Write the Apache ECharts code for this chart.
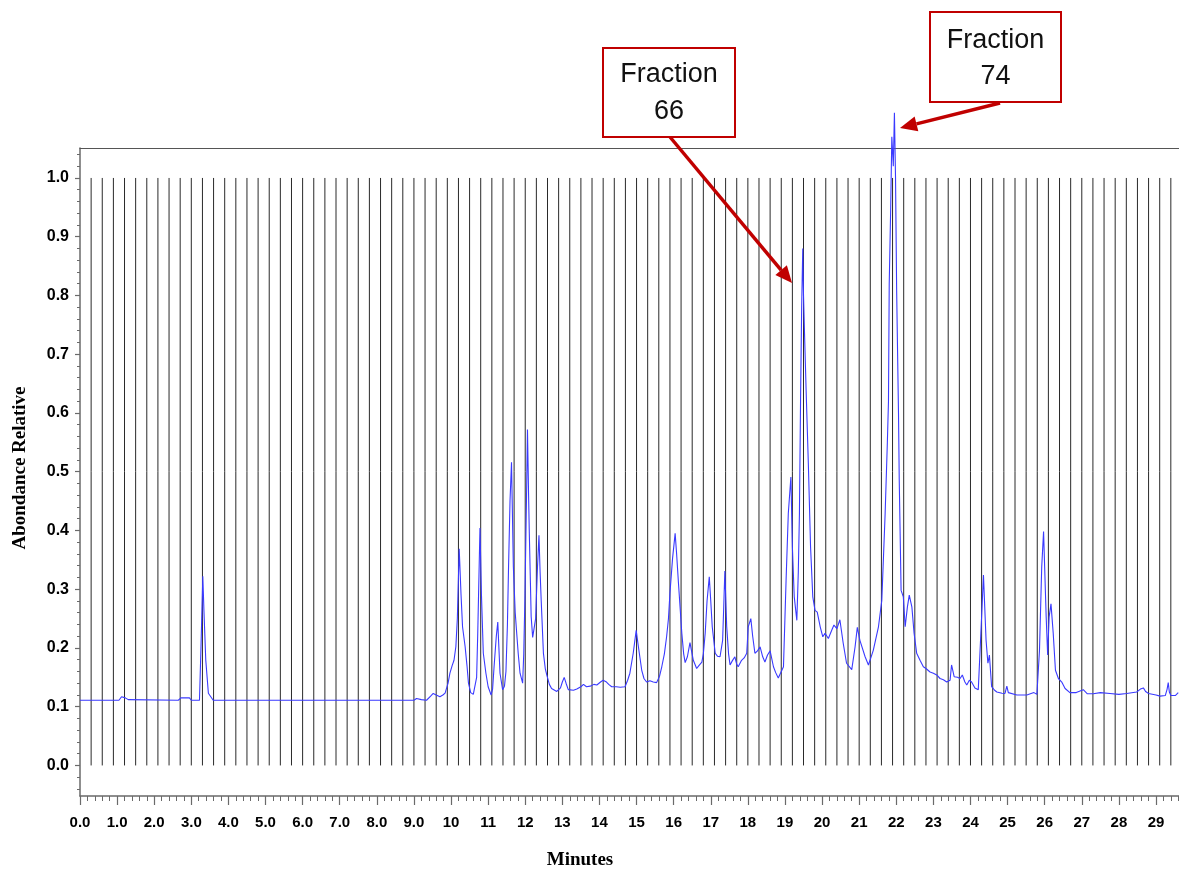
<!DOCTYPE html>
<html>
<head>
<meta charset="utf-8">
<script src="https://cdn.jsdelivr.net/npm/echarts@6/dist/echarts.min.js"></script>
<style>
html,body{margin:0;padding:0;background:#fff;}
#chart{width:1179px;height:871px;}
</style>
</head>
<body>
<div id="chart"></div>
<script>
// ---- data ----
const xTickValues = [0,1,2,3,4,5,6,7,8,9,10,11,12,13,14,15,16,17,18,19,20,21,22,23,24,25,26,27,28,29];
const xTickLabels = ['0.0','1.0','2.0','3.0','4.0','5.0','6.0','7.0','8.0','9.0','10','11','12','13','14','15','16','17','18','19','20','21','22','23','24','25','26','27','28','29'];
const yTickValues = [0,0.1,0.2,0.3,0.4,0.5,0.6,0.7,0.8,0.9,1.0];
const yTickLabels = ['0.0','0.1','0.2','0.3','0.4','0.5','0.6','0.7','0.8','0.9','1.0'];

const fractionTimes = [0.3,0.6,0.9,1.2,1.5,1.8,2.1,2.4,2.7,3.0,3.3,3.6,3.9,4.2,4.5,4.8,5.1,5.4,5.7,6.0,6.3,6.6,6.9,7.2,7.5,7.8,8.1,8.4,8.7,9.0,9.3,9.6,9.9,10.2,10.5,10.8,11.1,11.4,11.7,12.0,12.3,12.6,12.9,13.2,13.5,13.8,14.1,14.4,14.7,15.0,15.3,15.6,15.9,16.2,16.5,16.8,17.1,17.4,17.7,18.0,18.3,18.6,18.9,19.2,19.5,19.8,20.1,20.4,20.7,21.0,21.3,21.6,21.9,22.2,22.5,22.8,23.1,23.4,23.7,24.0,24.3,24.6,24.9,25.2,25.5,25.8,26.1,26.4,26.7,27.0,27.3,27.6,27.9,28.2,28.5,28.8,29.1,29.4];
const fractionBottom = 0;
const fractionTop = 1.0;

const traceTimes = [0,1.05,1.12,1.17,1.22,1.3,2.65,2.72,2.95,3.0,3.22,3.26,3.31,3.34,3.39,3.46,3.59,5.0,5.02,5.04,9.0,9.07,9.2,9.34,9.45,9.52,9.6,9.7,9.78,9.84,9.92,9.97,10.03,10.08,10.13,10.17,10.22,10.27,10.31,10.38,10.43,10.47,10.53,10.6,10.65,10.69,10.72,10.78,10.82,10.87,10.94,11.0,11.08,11.12,11.16,11.22,11.26,11.29,11.32,11.39,11.44,11.48,11.52,11.55,11.59,11.63,11.68,11.73,11.77,11.81,11.86,11.93,11.96,11.99,12.04,12.06,12.09,12.11,12.16,12.2,12.24,12.28,12.33,12.37,12.4,12.43,12.49,12.54,12.58,12.65,12.71,12.85,12.95,13.0,13.05,13.1,13.16,13.3,13.39,13.5,13.57,13.65,13.75,13.85,13.93,14.03,14.1,14.19,14.25,14.33,14.45,14.56,14.69,14.76,14.82,14.91,14.99,15.05,15.14,15.2,15.27,15.36,15.45,15.54,15.62,15.68,15.75,15.81,15.86,15.9,15.97,16.04,16.08,16.13,16.22,16.27,16.31,16.37,16.44,16.53,16.62,16.68,16.76,16.8,16.85,16.9,16.96,17.0,17.04,17.12,17.18,17.25,17.32,17.35,17.38,17.43,17.48,17.52,17.58,17.65,17.7,17.74,17.83,17.9,17.97,18.01,18.08,18.13,18.19,18.26,18.33,18.4,18.46,18.53,18.6,18.69,18.75,18.82,18.87,18.96,19.03,19.09,19.16,19.2,19.25,19.32,19.36,19.39,19.42,19.45,19.48,19.5,19.53,19.57,19.63,19.69,19.75,19.81,19.87,19.95,20.02,20.08,20.17,20.26,20.32,20.4,20.48,20.57,20.66,20.8,20.89,20.95,21.02,21.16,21.25,21.38,21.52,21.61,21.7,21.76,21.79,21.81,21.85,21.88,21.92,21.95,21.98,22.01,22.06,22.08,22.13,22.19,22.24,22.3,22.35,22.42,22.48,22.55,22.64,22.73,22.8,22.91,23.0,23.09,23.18,23.27,23.36,23.45,23.49,23.56,23.65,23.72,23.78,23.85,23.9,23.97,24.03,24.12,24.21,24.28,24.35,24.42,24.47,24.51,24.57,24.65,24.71,24.85,24.93,24.98,25.02,25.25,25.52,25.71,25.79,25.86,25.92,25.97,26.04,26.08,26.12,26.17,26.23,26.29,26.37,26.46,26.55,26.68,26.85,27.04,27.15,27.31,27.5,27.76,28.0,28.21,28.48,28.58,28.66,28.72,28.8,29.0,29.11,29.25,29.3,29.33,29.36,29.4,29.52,29.6];
const traceValues = [0.111,0.111,0.117,0.120,0.115,0.112,0.111,0.115,0.115,0.111,0.111,0.200,0.322,0.264,0.179,0.123,0.111,0.111,0.108,0.111,0.111,0.114,0.112,0.111,0.118,0.1225,0.120,0.117,0.120,0.123,0.140,0.157,0.170,0.179,0.202,0.250,0.369,0.290,0.236,0.202,0.170,0.140,0.124,0.121,0.122,0.150,0.225,0.404,0.290,0.191,0.157,0.134,0.120,0.130,0.168,0.220,0.244,0.200,0.157,0.129,0.135,0.160,0.240,0.338,0.451,0.516,0.338,0.260,0.225,0.191,0.157,0.140,0.190,0.281,0.480,0.572,0.460,0.395,0.253,0.218,0.218,0.250,0.338,0.392,0.330,0.281,0.191,0.165,0.154,0.138,0.131,0.126,0.132,0.142,0.150,0.140,0.129,0.128,0.130,0.134,0.138,0.134,0.135,0.138,0.137,0.142,0.145,0.142,0.138,0.134,0.134,0.133,0.134,0.145,0.157,0.191,0.230,0.202,0.162,0.148,0.142,0.144,0.142,0.141,0.152,0.168,0.190,0.219,0.250,0.293,0.352,0.395,0.360,0.310,0.225,0.190,0.175,0.185,0.209,0.179,0.165,0.170,0.176,0.190,0.225,0.280,0.321,0.280,0.236,0.191,0.186,0.185,0.213,0.270,0.331,0.236,0.190,0.171,0.178,0.185,0.172,0.168,0.179,0.183,0.191,0.236,0.250,0.220,0.191,0.195,0.202,0.185,0.176,0.188,0.195,0.168,0.158,0.149,0.148,0.168,0.315,0.429,0.491,0.372,0.287,0.247,0.330,0.429,0.620,0.780,0.880,0.800,0.729,0.639,0.514,0.372,0.287,0.264,0.261,0.236,0.219,0.225,0.216,0.230,0.239,0.233,0.248,0.208,0.174,0.163,0.202,0.235,0.213,0.185,0.171,0.196,0.236,0.281,0.429,0.550,0.620,0.820,0.950,1.070,1.020,1.111,1.000,0.809,0.600,0.486,0.298,0.287,0.236,0.270,0.290,0.270,0.225,0.191,0.179,0.168,0.165,0.159,0.157,0.154,0.148,0.146,0.142,0.145,0.171,0.151,0.150,0.148,0.154,0.142,0.137,0.145,0.142,0.132,0.129,0.225,0.324,0.213,0.174,0.188,0.134,0.128,0.125,0.123,0.1225,0.135,0.124,0.120,0.120,0.124,0.121,0.196,0.338,0.398,0.253,0.188,0.253,0.275,0.225,0.162,0.148,0.142,0.131,0.124,0.124,0.129,0.122,0.122,0.124,0.1225,0.121,0.1225,0.125,0.130,0.132,0.126,0.1225,0.120,0.118,0.119,0.130,0.141,0.125,0.119,0.119,0.124];

const annotations = [
  {label:'Fraction\n66', tipTime:19.19, tipValue:0.821},
  {label:'Fraction\n74', tipTime:22.10, tipValue:1.085}
];

// ---- minor ticks (axis decoration steps) ----
const xMinorStep = 0.2, yMinorStep = 0.02;
const xMinorTicks = [];
for (let i = 0; i <= 148; i++) xMinorTicks.push(+(i * xMinorStep).toFixed(2));
const yMinorTicks = [];
for (let i = -2; i <= 52; i++) yMinorTicks.push(+(i * yMinorStep).toFixed(2));

const X_MIN = 0, X_MAX = 29.62, Y_MIN = -0.052, Y_MAX = 1.051;
const AX = '#6a6a6a';
const LABEL_FONT = '"Liberation Sans", Arial, sans-serif';

function lookup(vals, labels, v) {
  for (let i = 0; i < vals.length; i++) if (Math.abs(vals[i] - v) < 1e-6) return labels[i];
  return '';
}

const chart = echarts.init(document.getElementById('chart'), null, {renderer:'canvas'});

const option = {
  animation: false,
  backgroundColor: '#ffffff',
  grid: {left: 80, right: 0, top: 148, bottom: 75, containLabel: false},
  xAxis: [
    {type:'value', min:X_MIN, max:X_MAX, position:'bottom',
     axisLine:{show:true, onZero:false, lineStyle:{color:AX, width:1.5}},
     axisTick:{show:true, customValues:xTickValues, length:9, lineStyle:{color:AX, width:1.2}},
     axisLabel:{show:true, customValues:xTickValues, margin:19, color:'#000', fontWeight:'bold', fontSize:15, fontFamily:LABEL_FONT,
       formatter:(v)=>lookup(xTickValues, xTickLabels, v)},
     splitLine:{show:false}},
    {type:'value', min:X_MIN, max:X_MAX, position:'bottom',
     axisLine:{show:false, onZero:false},
     axisTick:{show:true, customValues:xMinorTicks, length:5, lineStyle:{color:AX, width:1}},
     axisLabel:{show:false}, splitLine:{show:false}},
    {type:'value', min:X_MIN, max:X_MAX, position:'top',
     axisLine:{show:true, onZero:false, lineStyle:{color:'#555', width:1.2}},
     axisTick:{show:false}, axisLabel:{show:false}, splitLine:{show:false}}
  ],
  yAxis: [
    {type:'value', min:Y_MIN, max:Y_MAX, position:'left',
     axisLine:{show:true, onZero:false, lineStyle:{color:AX, width:1.5}},
     axisTick:{show:true, customValues:yTickValues, length:5, lineStyle:{color:AX, width:1.2}},
     axisLabel:{show:true, customValues:yTickValues, margin:11, color:'#000', fontWeight:'bold', fontSize:16, fontFamily:LABEL_FONT,
       formatter:(v)=>lookup(yTickValues, yTickLabels, v)},
     splitLine:{show:false}},
    {type:'value', min:Y_MIN, max:Y_MAX, position:'left',
     axisLine:{show:false, onZero:false},
     axisTick:{show:true, customValues:yMinorTicks, length:3, lineStyle:{color:AX, width:1}},
     axisLabel:{show:false}, splitLine:{show:false}}
  ],
  series: [
    {
      type:'custom', name:'fractions', xAxisIndex:0, yAxisIndex:0, z:2,
      data: fractionTimes.map(t => [t, fractionBottom, fractionTop]),
      encode:{x:0, y:[1,2]},
      renderItem: function(params, api) {
        const p0 = api.coord([api.value(0), api.value(1)]);
        const p1 = api.coord([api.value(0), api.value(2)]);
        return {type:'line', shape:{x1:p0[0], y1:p0[1], x2:p1[0], y2:p1[1]},
                style:{stroke:'#2a2a2a', lineWidth:1}};
      }
    },
    {
      type:'line', name:'trace', xAxisIndex:0, yAxisIndex:0, z:3,
      data: traceTimes.map((t,i)=>[t, traceValues[i]]),
      showSymbol:false, symbol:'none', clip:false,
      lineStyle:{color:'#3a3aff', width:1.1},
      silent:true
    }
  ]
};
chart.setOption(option);

// ---- annotations: boxes and arrows ----
const RED = '#c00000';
const boxes = [
  {x:603, y:48, w:132, h:89, line1Y:75, line2Y:112, startX:670, startY:137},
  {x:930, y:12, w:131, h:90, line1Y:41, line2Y:77, startX:1000, startY:103}
];
const graphics = [];
annotations.forEach((a, i) => {
  const b = boxes[i];
  const parts = a.label.split('\n');
  graphics.push({type:'rect', shape:{x:b.x, y:b.y, width:b.w, height:b.h}, style:{fill:'#fff', stroke:RED, lineWidth:2}, z:10});
  graphics.push({type:'text', style:{text:parts[0], x:b.x + b.w/2, y:b.line1Y, align:'center', verticalAlign:'middle', font:'27px "Liberation Sans", Arial, sans-serif', fill:'#111'}, z:11});
  graphics.push({type:'text', style:{text:parts[1], x:b.x + b.w/2, y:b.line2Y, align:'center', verticalAlign:'middle', font:'27px "Liberation Sans", Arial, sans-serif', fill:'#111'}, z:11});
  const tip = chart.convertToPixel({xAxisIndex:0, yAxisIndex:0}, [a.tipTime, a.tipValue]);
  const dx = tip[0] - b.startX, dy = tip[1] - b.startY;
  const len = Math.sqrt(dx*dx + dy*dy);
  const ux = dx/len, uy = dy/len;
  const headL = 17, headW = 7.5;
  const bx = tip[0] - ux*headL, by = tip[1] - uy*headL;
  graphics.push({type:'line', shape:{x1:b.startX, y1:b.startY, x2:bx, y2:by}, style:{stroke:RED, lineWidth:3.5}, z:12});
  graphics.push({type:'polygon', shape:{points:[[tip[0], tip[1]], [bx - uy*headW, by + ux*headW], [bx + uy*headW, by - ux*headW]]}, style:{fill:RED}, z:12});
});
// axis titles
graphics.push({type:'text', style:{text:'Minutes', x:580, y:860, align:'center', verticalAlign:'middle', font:'bold 19px "Liberation Serif", "Times New Roman", serif', fill:'#000'}, z:5});
graphics.push({type:'text', rotation:Math.PI/2, x:20, y:468, style:{text:'Abondance Relative', x:0, y:0, align:'center', verticalAlign:'middle', font:'bold 19px "Liberation Serif", "Times New Roman", serif', fill:'#000'}, z:5});
chart.setOption({graphic: graphics});
</script>
</body>
</html>
